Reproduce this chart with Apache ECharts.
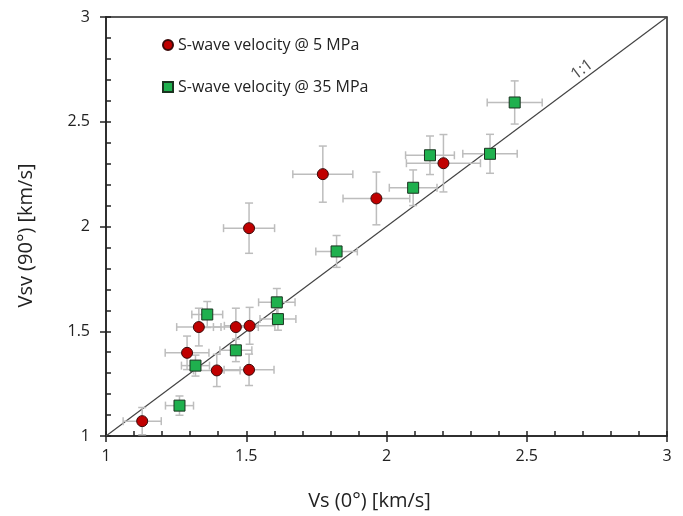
<!DOCTYPE html>
<html><head><meta charset="utf-8">
<script src="https://cdn.jsdelivr.net/npm/echarts@6/dist/echarts.min.js"></script>
<style>html,body{margin:0;padding:0;background:#fff}#c{width:683px;height:516px}</style>
</head><body><div id="c"></div>
<script>
// 5 MPa: Vs, Vsv, errors
const vs5   = [1.129, 1.289, 1.331, 1.395, 1.463, 1.512, 1.510, 1.510, 1.773, 1.964, 2.203];
const vsv5  = [1.071, 1.397, 1.520, 1.313, 1.520, 1.526, 1.316, 1.992, 2.250, 2.134, 2.302];
const ex5   = [0.068, 0.078, 0.079, 0.083, 0.080, 0.090, 0.089, 0.091, 0.107, 0.119, 0.132];
const ey5   = [0.065, 0.080, 0.090, 0.077, 0.090, 0.088, 0.075, 0.120, 0.134, 0.126, 0.137];
// 35 MPa
const vs35  = [1.262, 1.319, 1.361, 1.463, 1.609, 1.613, 1.822, 2.095, 2.155, 2.369, 2.457];
const vsv35 = [1.145, 1.336, 1.580, 1.409, 1.638, 1.558, 1.881, 2.185, 2.340, 2.347, 2.592];
const ex35  = [0.050, 0.050, 0.055, 0.057, 0.065, 0.064, 0.074, 0.085, 0.087, 0.097, 0.098];
const ey35  = [0.046, 0.050, 0.062, 0.054, 0.066, 0.053, 0.076, 0.085, 0.092, 0.093, 0.103];
const xTicks = [1, 1.5, 2, 2.5, 3];
const yTicks = [1, 1.5, 2, 2.5, 3];
const oneToOne = [[1, 1], [3, 3]];
const lineLabelPos = [2.697, 2.749];

const FONT = 'Open Sans';
const pts5 = vs5.map((x, i) => [x, vsv5[i], ex5[i], ey5[i]]);
const pts35 = vs35.map((x, i) => [x, vsv35[i], ex35[i], ey35[i]]);

function errRender(params, api) {
  const x = api.value(0), y = api.value(1), ex = api.value(2), ey = api.value(3);
  const l = api.coord([x - ex, y]), r = api.coord([x + ex, y]);
  const t = api.coord([x, y + ey]), b = api.coord([x, y - ey]);
  const c = 4;
  const st = { stroke: '#bdbdbd', lineWidth: 1.5 };
  return { type: 'group', children: [
    { type: 'line', shape: { x1: l[0], y1: l[1], x2: r[0], y2: r[1] }, style: st },
    { type: 'line', shape: { x1: l[0], y1: l[1] - c, x2: l[0], y2: l[1] + c }, style: st },
    { type: 'line', shape: { x1: r[0], y1: r[1] - c, x2: r[0], y2: r[1] + c }, style: st },
    { type: 'line', shape: { x1: t[0], y1: t[1], x2: b[0], y2: b[1] }, style: st },
    { type: 'line', shape: { x1: t[0] - c, y1: t[1], x2: t[0] + c, y2: t[1] }, style: st },
    { type: 'line', shape: { x1: b[0] - c, y1: b[1], x2: b[0] + c, y2: b[1] }, style: st }
  ]};
}

const chart = echarts.init(document.getElementById('c'), null, { renderer: 'canvas' });
chart.setOption({
  animation: false,
  backgroundColor: '#fff',
  grid: { left: 106, right: 16, top: 17, bottom: 77, show: true, borderColor: '#222', borderWidth: 1.5 },
  xAxis: [
    { type: 'value', min: 1, max: 3, interval: 0.5,
      name: 'Vs (0°) [km/s]', nameLocation: 'middle', nameGap: 55,
      nameTextStyle: { color: '#222', fontSize: 20, fontFamily: FONT, padding: [0, 34, 0, 0] },
      axisLine: { show: true, lineStyle: { color: '#222', width: 1.5 } },
      axisTick: { show: true, length: 6, lineStyle: { color: '#222', width: 1.5 } },
      splitLine: { show: false },
      axisLabel: { color: '#222', fontSize: 16, fontFamily: FONT, margin: 12,
        formatter: v => xTicks.includes(v) ? String(v) : '' } },
    { type: 'value', min: 1, max: 3, interval: 0.1, position: 'bottom',
      axisLine: { show: false },
      axisTick: { show: true, inside: true, length: 5, lineStyle: { color: '#222', width: 1.5 } },
      axisLabel: { show: false }, splitLine: { show: false } }
  ],
  yAxis: [
    { type: 'value', min: 1, max: 3, interval: 0.5,
      name: 'Vsv (90°) [km/s]', nameLocation: 'middle', nameGap: 70,
      nameTextStyle: { color: '#222', fontSize: 20, fontFamily: FONT, padding: [0, 18, 0, 0] },
      axisLine: { show: true, lineStyle: { color: '#222', width: 1.5 } },
      axisTick: { show: true, length: 6, lineStyle: { color: '#222', width: 1.5 } },
      splitLine: { show: false },
      axisLabel: { color: '#222', fontSize: 16, fontFamily: FONT, margin: 16,
        formatter: v => yTicks.includes(v) ? String(v) : '' } },
    { type: 'value', min: 1, max: 3, interval: 0.1, position: 'left',
      axisLine: { show: false },
      axisTick: { show: true, inside: true, length: 5, lineStyle: { color: '#222', width: 1.5 } },
      axisLabel: { show: false }, splitLine: { show: false } }
  ],
  legend: {
    orient: 'vertical', left: 157, top: 32, itemGap: 26, itemWidth: 10, itemHeight: 10,
    textStyle: { color: '#222', fontSize: 16, fontFamily: FONT },
    data: [
      { name: 'S-wave velocity @ 5 MPa', icon: 'circle' },
      { name: 'S-wave velocity @ 35 MPa', icon: 'rect' }
    ]
  },
  series: [
    { type: 'line', data: oneToOne, symbol: 'none', silent: true,
      lineStyle: { color: '#444', width: 1.2 }, z: 1 },
    { type: 'scatter', data: [lineLabelPos], symbolSize: 0, silent: true,
      label: { show: true, formatter: '1:1', position: 'inside', rotate: 37,
        color: '#222', fontSize: 16, fontFamily: FONT } },
    { type: 'custom', data: pts5, renderItem: errRender, z: 2, silent: true },
    { type: 'custom', data: pts35, renderItem: errRender, z: 2, silent: true },
    { name: 'S-wave velocity @ 5 MPa', type: 'scatter', symbol: 'circle', symbolSize: 11,
      data: pts5.map(p => [p[0], p[1]]), z: 5,
      itemStyle: { color: '#c00000', borderColor: '#3a0a0a', borderWidth: 1, opacity: 1 } },
    { name: 'S-wave velocity @ 35 MPa', type: 'scatter', symbol: 'rect', symbolSize: 11,
      data: pts35.map(p => [p[0], p[1]]), z: 5,
      itemStyle: { color: '#1fb04e', borderColor: '#1b3320', borderWidth: 1, opacity: 1 } }
  ]
});
</script></body></html>
